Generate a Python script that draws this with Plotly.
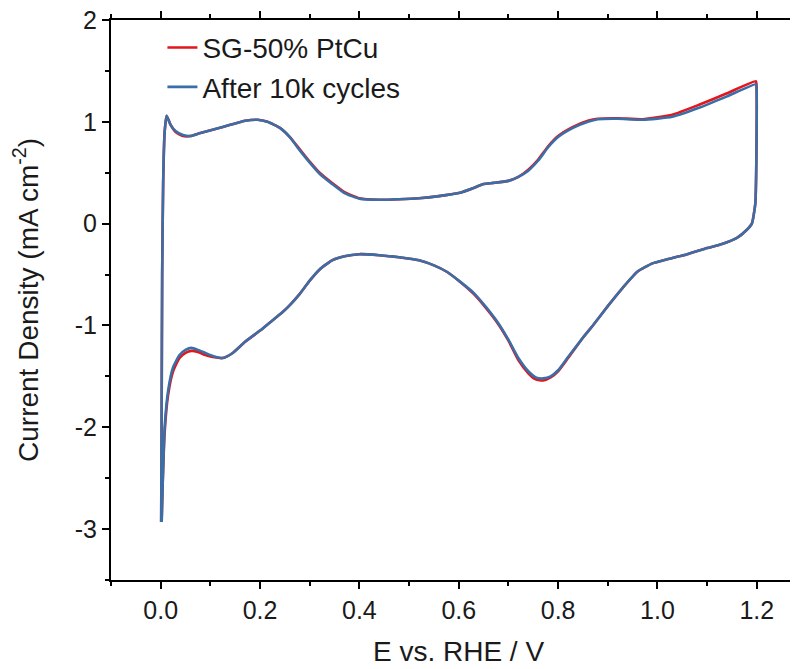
import plotly.graph_objects as go

# Anodic (positive-going) sweep, potential in V vs RHE
E_anodic = [0.001, 0.002, 0.003, 0.005, 0.008, 0.012, 0.02, 0.03, 0.045, 0.06,
            0.08, 0.11, 0.14, 0.17, 0.195, 0.215, 0.24, 0.26, 0.28, 0.30,
            0.32, 0.345, 0.37, 0.40, 0.44, 0.48, 0.52, 0.56, 0.60, 0.63,
            0.65, 0.67, 0.70, 0.72, 0.74, 0.76, 0.78, 0.80, 0.83, 0.86,
            0.88, 0.92, 0.97, 1.03, 1.085, 1.14, 1.198]
j_anodic_pristine = [-2.93, -1.8, -0.5, 0.4, 0.9, 1.06, 0.97, 0.90, 0.86, 0.86,
                     0.89, 0.93, 0.97, 1.01, 1.02, 1.00, 0.94, 0.85, 0.73, 0.61,
                     0.50, 0.40, 0.31, 0.25, 0.235, 0.24, 0.25, 0.27, 0.30, 0.35,
                     0.39, 0.40, 0.42, 0.46, 0.53, 0.63, 0.76, 0.86, 0.95, 1.01,
                     1.03, 1.035, 1.025, 1.07, 1.17, 1.28, 1.40]
j_anodic_cycled = [-2.93, -1.8, -0.5, 0.4, 0.9, 1.06, 0.97, 0.91, 0.87, 0.86,
                   0.89, 0.93, 0.97, 1.01, 1.02, 1.00, 0.94, 0.85, 0.72, 0.60,
                   0.49, 0.39, 0.30, 0.245, 0.235, 0.24, 0.25, 0.27, 0.30, 0.35,
                   0.39, 0.40, 0.42, 0.46, 0.52, 0.62, 0.75, 0.85, 0.94, 1.00,
                   1.025, 1.03, 1.02, 1.05, 1.14, 1.25, 1.37]

# Cathodic (negative-going) sweep
E_cathodic = [1.199, 1.199, 1.197, 1.19, 1.18, 1.16, 1.13, 1.10, 1.06, 1.02,
              0.99, 0.96, 0.93, 0.90, 0.87, 0.85, 0.82, 0.80, 0.785, 0.77,
              0.755, 0.74, 0.72, 0.70, 0.68, 0.655, 0.63, 0.60, 0.575, 0.55,
              0.52, 0.48, 0.44, 0.40, 0.37, 0.345, 0.32, 0.30, 0.28, 0.26,
              0.245, 0.22, 0.20, 0.17, 0.145, 0.125, 0.105, 0.09, 0.075, 0.062,
              0.05, 0.038, 0.025, 0.015, 0.008, 0.004, 0.002]
j_cathodic_pristine = [1.38, 0.6, 0.2, 0.0, -0.06, -0.14, -0.20, -0.24, -0.30, -0.35,
                       -0.39, -0.47, -0.63, -0.81, -1.00, -1.12, -1.32, -1.45, -1.51, -1.54,
                       -1.53, -1.47, -1.34, -1.15, -0.99, -0.83, -0.69, -0.56, -0.47, -0.41,
                       -0.36, -0.33, -0.31, -0.30, -0.32, -0.36, -0.45, -0.56, -0.69, -0.80,
                       -0.87, -0.97, -1.05, -1.16, -1.27, -1.32, -1.31, -1.29, -1.26, -1.25,
                       -1.27, -1.32, -1.45, -1.68, -2.05, -2.56, -2.93]
j_cathodic_cycled = [1.36, 0.6, 0.2, 0.0, -0.06, -0.14, -0.20, -0.24, -0.30, -0.35,
                     -0.39, -0.47, -0.63, -0.81, -1.00, -1.12, -1.31, -1.44, -1.50, -1.52,
                     -1.51, -1.45, -1.32, -1.14, -0.98, -0.82, -0.68, -0.56, -0.47, -0.41,
                     -0.36, -0.33, -0.31, -0.30, -0.32, -0.36, -0.45, -0.56, -0.69, -0.80,
                     -0.87, -0.97, -1.05, -1.16, -1.27, -1.32, -1.30, -1.27, -1.24, -1.22,
                     -1.24, -1.29, -1.41, -1.64, -2.00, -2.56, -2.93]

series_names = ["SG-50% PtCu", "After 10k cycles"]
series_colors = ["#e3151d", "#3a6ea6"]

x_ticks = [0.0, 0.2, 0.4, 0.6, 0.8, 1.0, 1.2]
y_ticks = [-3, -2, -1, 0, 1, 2]

fig = go.Figure()
for name, color, ja, jc in [
    (series_names[0], series_colors[0], j_anodic_pristine, j_cathodic_pristine),
    (series_names[1], series_colors[1], j_anodic_cycled, j_cathodic_cycled),
]:
    fig.add_trace(go.Scatter(
        x=E_anodic + E_cathodic, y=ja + jc, mode="lines", name=name,
        line=dict(color=color, width=2.6, shape="spline", smoothing=0.5),
    ))

font_family = "Liberation Sans, Arial, sans-serif"
fig.update_layout(
    width=798, height=661,
    margin=dict(l=103, r=0, t=12, b=89),
    paper_bgcolor="white", plot_bgcolor="white",
    font=dict(family=font_family, color="#1a1a1a", size=25),
    showlegend=True,
    legend=dict(x=0.074, y=0.995, xanchor="left", yanchor="top",
                bgcolor="rgba(0,0,0,0)", font=dict(size=28),
                tracegroupgap=0),
)
fig.update_xaxes(
    range=[-0.1, 1.299], tickvals=x_ticks, ticktext=[f"{v:.1f}" for v in x_ticks],
    showline=True, linecolor="black", linewidth=2, mirror="all",
    ticks="outside", ticklen=7, tickwidth=2, tickcolor="black",
    minor=dict(dtick=0.1, tick0=0, ticks="outside", ticklen=4, tickwidth=2, tickcolor="black"),
    showgrid=False, zeroline=False, automargin=False, ticklabeloverflow="allow",
    tickfont=dict(size=25),
    title=dict(text="E vs. RHE / V", font=dict(size=28), standoff=18),
)
fig.update_yaxes(
    range=[-3.5, 2], tickvals=y_ticks, ticktext=[str(v) for v in y_ticks],
    showline=True, linecolor="black", linewidth=2, mirror=False,
    ticks="outside", ticklen=7, tickwidth=2, tickcolor="black",
    minor=dict(dtick=0.5, tick0=0, ticks="outside", ticklen=4, tickwidth=2, tickcolor="black"),
    showgrid=False, zeroline=False, automargin=False, ticklabeloverflow="allow",
    tickfont=dict(size=25),
    title=dict(text="Current Density (mA cm<sup>-2</sup>)", font=dict(size=28), standoff=28),
)

fig.write_html("out.html")
